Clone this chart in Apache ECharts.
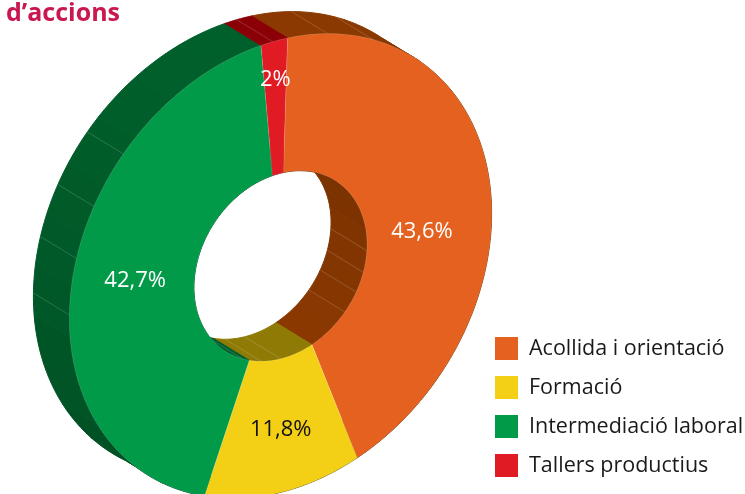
<!DOCTYPE html>
<html>
<head>
<meta charset="utf-8">
<style>
  html, body { margin: 0; padding: 0; background: #fff; }
  #chart { width: 745px; height: 494px; }
</style>
</head>
<body>
<div id="chart"></div>
<script src="https://cdn.jsdelivr.net/npm/echarts@6/dist/echarts.min.js"></script>
<script>
const categories = ['Acollida i orientació', 'Formació', 'Intermediació laboral', 'Tallers productius']
const values = [43.6, 11.8, 42.7, 2]
const valueLabels = ['43,6%', '11,8%', '42,7%', '2%']

const colors = ['#e46120', '#f3d015', '#009a49', '#e01b24']
const wallColors = ['#8b3900', '#8f7a05', '#00602b', '#8b0006']
const labelColors = ['#fff', '#111', '#fff', '#fff']

const FONT = '"Open Sans", sans-serif'

// the ring is a tilted disc, so a circle angle goes through this matrix
const cx = 280.5
const cy = 266
const U = [7, -228]
const V = [211, -45]
const HOLE = 0.41
const DEPTH = [-36, -22]
const START = 0
const FACET = 13

// the few seams that show on the walls, in ring degrees
const outerSeams = [11, 24, 269, 283, 296, 310, 356]
const innerSeams = [92, 105, 117, 130, 178, 191, 204]

// where each percent sits on the ring
const labelRadius = [0.67, 0.725, 0.695, 0.83]
const labelShift = [10, 0, 0, 0]

const total = values.reduce((a, b) => a + b, 0)
const starts = []
values.reduce((acc, v, i) => {
  starts[i] = acc
  return acc + v / total * 360
}, START)

function ringPoint(deg, r, off) {
  const t = deg * Math.PI / 180
  const c = Math.cos(t) * r
  const s = Math.sin(t) * r
  return [
    cx + U[0] * c + V[0] * s + (off ? DEPTH[0] : 0),
    cy + U[1] * c + V[1] * s + (off ? DEPTH[1] : 0)
  ]
}

// color.lift only goes lighter, so darken by hand
function shade(hex, k) {
  const c = echarts.color.parse(hex)
  return 'rgb(' + [c[0], c[1], c[2]].map(v => Math.round(v * (1 - k))).join(',') + ')'
}

function renderFace(params, api) {
  const i = params.seriesIndex - 1
  const from = starts[i]
  const to = from + api.value(0) / total * 360
  const pts = []
  const steps = Math.ceil((to - from) / 2)
  for (let k = 0; k <= steps; k++) pts.push(ringPoint(from + (to - from) * k / steps, 1, false))
  for (let k = steps; k >= 0; k--) pts.push(ringPoint(from + (to - from) * k / steps, HOLE, false))
  const mid = (from + to) / 2 + labelShift[i]
  const pos = ringPoint(mid, labelRadius[i], false)
  return {
    type: 'group',
    children: [{
      type: 'polygon',
      shape: { points: pts },
      style: { fill: colors[i], stroke: 'rgba(255,255,255,0.2)', lineWidth: 0.6 }
    }, {
      type: 'text',
      z2: 10,
      style: {
        x: pos[0],
        y: pos[1],
        text: valueLabels[i],
        fill: labelColors[i],
        font: '22px ' + FONT,
        align: 'center',
        verticalAlign: 'middle'
      }
    }]
  }
}

function renderWalls(params, api) {
  const i = params.dataIndex
  const from = starts[i]
  const to = from + api.value(0) / total * 360
  const n = Math.max(2, Math.round((to - from) / FACET))
  const children = []
  for (let f = 0; f < n; f++) {
    const a = from + (to - from) * f / n
    const b = from + (to - from) * (f + 1) / n
    const cosMid = Math.cos((a + b) / 2 * Math.PI / 180)
    const outerTone = shade(wallColors[i], 0.18 * (1 - cosMid) / 2)
    const innerTone = shade(wallColors[i], 0.15 * (1 + cosMid) / 2)
    ;[[1, outerTone], [HOLE, innerTone]].forEach(([r, fill]) => {
      const pts = []
      for (let k = 0; k <= 6; k++) pts.push(ringPoint(a + (b - a) * k / 6, r, false))
      for (let k = 6; k >= 0; k--) pts.push(ringPoint(a + (b - a) * k / 6, r, true))
      children.push({
        type: 'polygon',
        shape: { points: pts },
        style: { fill: fill, stroke: fill, lineWidth: 1, lineJoin: 'round' }
      })
    })
  }
  // thin seams, handed out to the slice they fall in
  ;[[outerSeams, 1], [innerSeams, HOLE]].forEach(([seams, r]) => {
    seams.filter(d => d >= from && d < to).forEach(d => {
      const p = ringPoint(d, r, false)
      const q = ringPoint(d, r, true)
      children.push({
        type: 'line',
        z2: 2,
        shape: { x1: p[0], y1: p[1], x2: q[0], y2: q[1] },
        style: { stroke: 'rgba(255,255,255,0.28)', lineWidth: 0.6 }
      })
    })
  })
  return { type: 'group', children: children }
}

const chart = echarts.init(document.getElementById('chart'), null, { renderer: 'canvas' })

chart.setOption({
  animation: false,
  backgroundColor: '#fff',
  color: colors,
  title: {
    text: 'd’accions',
    left: 1,
    top: -4,
    textStyle: { color: '#c9174f', fontFamily: FONT, fontSize: 25, fontWeight: 'bold' }
  },
  legend: {
    data: categories,
    orient: 'vertical',
    left: 495,
    top: 337,
    padding: 0,
    itemWidth: 23,
    itemHeight: 23,
    itemGap: 16,
    icon: 'rect',
    selectedMode: false,
    textStyle: { color: '#1a1a1a', fontFamily: FONT, fontSize: 21.5, padding: [0, 0, 0, 6] }
  },
  series: [{
    type: 'custom',
    name: 'parets',
    coordinateSystem: 'none',
    silent: true,
    z: 1,
    data: values.map(v => [v]),
    renderItem: renderWalls
  }].concat(categories.map((name, i) => ({
    type: 'custom',
    name: name,
    coordinateSystem: 'none',
    silent: true,
    z: 2,
    itemStyle: { color: colors[i] },
    data: [[values[i]]],
    renderItem: renderFace
  })))
})
</script>
</body>
</html>
